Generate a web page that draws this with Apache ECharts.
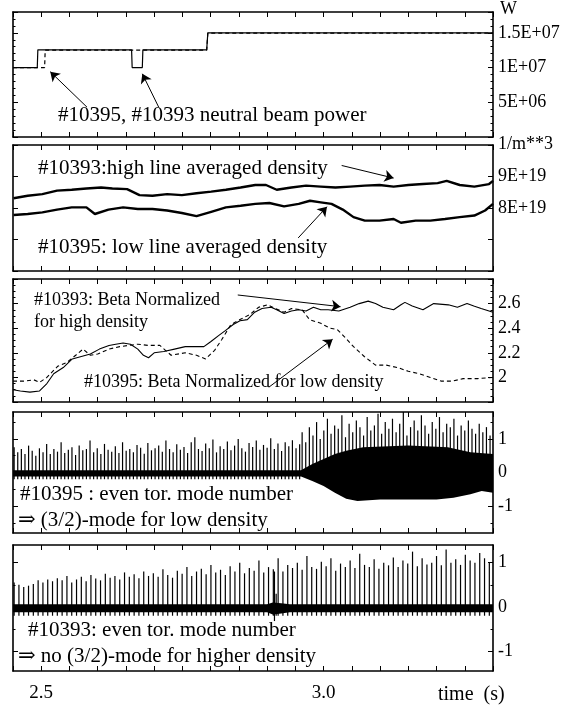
<!DOCTYPE html>
<html><head><meta charset="utf-8">
<script src="https://cdn.jsdelivr.net/npm/echarts@6/dist/echarts.min.js"></script>
<style>html,body{margin:0;padding:0;background:#fff}#c{width:571px;height:705px}</style>
</head><body><div id="c"></div>
<script>
const FONT = '"Liberation Serif", "DejaVu Serif", serif';
const T_MIN = 2.45, T_MAX = 3.30, T_STEP = 0.05;

// ---- Panel 1: neutral beam power (W)
const nbi10393 = [[2.45,1.0e7],[2.493,1.0e7],[2.494,1.255e7],[2.660,1.255e7],[2.661,1.0e7],[2.679,1.0e7],[2.680,1.255e7],[2.793,1.255e7],[2.795,1.5e7],[3.30,1.5e7]];
const nbi10395 = [[2.45,1.0e7],[2.506,1.0e7],[2.507,1.25e7],[2.793,1.25e7],[2.795,1.495e7],[3.30,1.495e7]];

// ---- Panel 2: line averaged density (1E+19 /m^3)
const dens10393 = [[2.451,8.31],[2.476,8.39],[2.502,8.44],[2.528,8.55],[2.554,8.58],[2.580,8.62],[2.606,8.65],[2.626,8.62],[2.652,8.60],[2.674,8.41],[2.697,8.39],[2.723,8.44],[2.749,8.41],[2.775,8.47],[2.801,8.52],[2.827,8.58],[2.853,8.65],[2.879,8.73],[2.898,8.73],[2.917,8.58],[2.943,8.65],[2.969,8.71],[2.995,8.68],[3.021,8.65],[3.047,8.68],[3.073,8.71],[3.099,8.73],[3.124,8.68],[3.150,8.73],[3.176,8.76],[3.202,8.79],[3.218,8.86],[3.241,8.73],[3.267,8.68],[3.293,8.76],[3.30,8.86]];
const dens10395 = [[2.451,7.78],[2.476,7.81],[2.502,7.86],[2.528,7.95],[2.554,8.02],[2.580,8.02],[2.595,7.81],[2.619,7.95],[2.645,8.02],[2.671,7.97],[2.697,7.97],[2.723,7.92],[2.749,7.84],[2.775,7.74],[2.801,7.88],[2.827,8.02],[2.853,8.07],[2.879,8.13],[2.904,8.16],[2.930,8.05],[2.956,8.13],[2.976,8.23],[2.995,8.18],[3.014,8.13],[3.034,7.95],[3.053,7.71],[3.073,7.60],[3.099,7.60],[3.124,7.65],[3.137,7.53],[3.163,7.60],[3.189,7.60],[3.215,7.65],[3.241,7.71],[3.267,7.76],[3.286,7.92],[3.30,8.13]];

// ---- Panel 3: beta normalized
const beta10393 = [[2.450,1.90],[2.463,1.89],[2.480,1.88],[2.497,1.89],[2.510,1.95],[2.522,2.03],[2.539,2.08],[2.555,2.15],[2.571,2.17],[2.587,2.19],[2.603,2.23],[2.620,2.26],[2.632,2.27],[2.645,2.28],[2.658,2.27],[2.671,2.23],[2.681,2.18],[2.690,2.16],[2.700,2.20],[2.717,2.21],[2.736,2.23],[2.755,2.25],[2.788,2.25],[2.800,2.29],[2.814,2.34],[2.826,2.38],[2.840,2.43],[2.852,2.46],[2.865,2.47],[2.878,2.53],[2.891,2.56],[2.907,2.57],[2.917,2.55],[2.930,2.52],[2.943,2.54],[2.956,2.55],[2.969,2.54],[2.982,2.57],[2.995,2.55],[3.008,2.55],[3.027,2.54],[3.047,2.57],[3.063,2.60],[3.079,2.62],[3.092,2.60],[3.105,2.57],[3.124,2.55],[3.137,2.59],[3.144,2.61],[3.157,2.58],[3.176,2.55],[3.195,2.60],[3.221,2.59],[3.237,2.57],[3.254,2.60],[3.266,2.58],[3.279,2.56],[3.300,2.53]];
const beta10395 = [[2.450,1.97],[2.469,1.97],[2.487,1.98],[2.497,1.96],[2.510,2.00],[2.529,2.09],[2.545,2.12],[2.561,2.18],[2.574,2.23],[2.587,2.18],[2.600,2.19],[2.620,2.23],[2.639,2.25],[2.655,2.26],[2.671,2.27],[2.690,2.26],[2.710,2.26],[2.730,2.18],[2.755,2.20],[2.775,2.18],[2.791,2.15],[2.807,2.22],[2.820,2.31],[2.836,2.43],[2.852,2.47],[2.869,2.51],[2.885,2.57],[2.901,2.59],[2.914,2.56],[2.930,2.53],[2.943,2.56],[2.962,2.55],[2.975,2.47],[2.995,2.44],[3.011,2.40],[3.024,2.39],[3.037,2.33],[3.053,2.25],[3.072,2.17],[3.092,2.10],[3.111,2.10],[3.131,2.08],[3.150,2.05],[3.169,2.03],[3.189,2.00],[3.208,1.97],[3.228,1.97],[3.247,1.99],[3.273,1.99],[3.300,2.00]];

// ---- Panel 4: #10395 mode signal
const spikes4aStart = 2.452, spikes4bStart = 2.962, spikeStep4 = 0.0064;
const spikes4a = [0.75,0.6,0.7,0.55,0.8,0.65,0.5,0.72,0.6,0.85,0.55,0.7,0.62,0.9,0.58,0.68,0.75,0.52,0.8,0.66,
  0.7,0.95,0.6,0.72,0.55,0.85,0.68,0.62,0.78,0.58,0.9,0.65,0.7,0.6,0.82,0.74,0.56,0.88,0.66,0.72,
  0.8,0.62,0.95,0.7,0.6,0.84,0.68,0.76,0.58,0.9,1.05,0.7,0.64,0.86,0.72,0.98,0.6,0.78,0.7,0.92,
  0.66,0.8,1.0,0.72,0.62,0.88,0.76,0.95,0.68,0.82,0.74,1.02,0.7,0.86,0.64,0.9,0.78,0.96,0.72,0.84];
const spikes4b = [1.2,0.9,1.35,1.1,1.5,1.0,1.25,1.6,1.15,1.4,1.3,1.7,1.05,1.45,1.2,1.55,1.35,1.1,1.65,1.25,
  1.4,1.75,1.15,1.5,1.3,1.6,1.2,1.45,1.8,1.1,1.35,1.55,1.25,1.7,1.4,1.15,1.5,1.3,1.65,1.2,
  1.45,1.35,1.6,1.1,1.4,1.25,1.55,1.3,1.15,1.45,1.2,1.35,1.1];
const band4Hi = [[2.45,0.07],[2.96,0.07],[2.98,0.25],[3.0,0.4],[3.02,0.55],[3.04,0.65],[3.07,0.75],[3.15,0.8],[3.22,0.75],[3.26,0.6],[3.30,0.55]];
const band4Lo = [[2.45,-0.12],[2.96,-0.12],[2.98,-0.25],[3.0,-0.4],[3.02,-0.6],[3.04,-0.78],[3.06,-0.85],[3.1,-0.8],[3.15,-0.8],[3.2,-0.8],[3.23,-0.75],[3.26,-0.65],[3.28,-0.55],[3.30,-0.6]];

// ---- Panel 5: #10393 mode signal
const spikes5Start = 2.452, spikeStep5 = 0.0085;
const spikes5 = [0.55,0.5,0.45,0.48,0.52,0.6,0.55,0.62,0.58,0.65,0.6,0.7,0.55,0.62,0.68,0.58,0.72,0.64,0.6,0.75,
  0.66,0.7,0.62,0.78,0.68,0.74,0.65,0.8,0.7,0.76,0.68,0.85,0.72,0.66,0.82,0.75,0.9,0.7,0.8,0.86,
  0.74,0.95,0.78,0.84,0.72,0.92,0.8,1.0,0.76,0.88,0.82,1.05,0.78,0.9,0.85,1.1,0.8,0.95,0.88,1.0,
  0.84,1.15,0.9,0.86,1.02,0.92,1.1,0.82,0.98,0.9,1.05,0.88,1.2,0.95,0.9,1.08,0.86,1.0,0.94,1.12,
  0.9,1.05,0.98,1.25,0.92,1.1,0.96,1.0,1.15,0.94,1.3,1.0,1.08,0.95,1.18,1.05,1.0,1.22,1.1,1.0];
const burst5 = [[2.913,-0.32,0.8],[2.916,-0.2,0.3]];
const band5Hi = [[2.45,0.06],[2.90,0.06],[2.91,0.1],[2.925,0.08],[2.94,0.06],[3.30,0.06]];
const band5Lo = [[2.45,-0.12],[2.90,-0.12],[2.91,-0.17],[2.925,-0.15],[2.94,-0.12],[3.30,-0.12]];

// ---- axis tick labels
const yLabels = [
  {5e6:'5E+06',1e7:'1E+07',1.5e7:'1.5E+07'},
  {8:'8E+19',9:'9E+19'},
  {2:'2',2.2:'2.2',2.4:'2.4',2.6:'2.6'},
  {'-1':'-1',0:'0',1:'1'},
  {'-1':'-1',0:'0',1:'1'}
];
const timeLabels = {2.5:'2.5', 3:'3.0'};

const grids = [
  {top:12, height:125},
  {top:145, height:126},
  {top:279, height:123},
  {top:412, height:121},
  {top:545, height:126}
];
const yScales = [
  {min:0, max:1.8e7, interval:5e6, minor:5},
  {min:6, max:10, interval:1, minor:0},
  {min:1.8, max:2.8, interval:0.2, minor:4},
  {min:-1.8, max:1.8, custom:[-1,0,1], minorVals:[-1.5,-0.5,0.5,1.5]},
  {min:-1.45, max:1.4, custom:[-1,0,1], minorVals:[-0.5,0.5]}
];

function lookup(map, v){
  for (const k in map){ if (Math.abs(parseFloat(k)-v) < 1e-9*Math.max(1,Math.abs(v))) return map[k]; }
  return '';
}
const LINE = {lineStyle:{color:'#000', width:1.6}};

const xAxes = [], yAxes = [];
grids.forEach((g,i)=>{
  ['bottom','top'].forEach(pos=>{
    xAxes.push({
      type:'value', gridIndex:i, position:pos, min:T_MIN, max:T_MAX, interval:T_STEP,
      axisLine:{show:true, onZero:false, ...LINE}, splitLine:{show:false},
      axisTick:{show:true, inside:true, length:5, lineStyle:{color:'#000', width:1}},
      axisLabel:{show: i===4 && pos==='bottom', margin:13, color:'#000', fontFamily:FONT, fontSize:19,
        formatter:v=>lookup(timeLabels,v)}
    });
  });
  const s = yScales[i];
  ['left','right'].forEach(pos=>{
    const ax = {
      type:'value', gridIndex:i, position:pos, min:s.min, max:s.max,
      axisLine:{show:true, onZero:false, ...LINE}, splitLine:{show:false},
      axisTick:{show:true, inside:true, length:5, lineStyle:{color:'#000', width:1}},
      axisLabel:{show: pos==='right', margin:5, color:'#000', fontFamily:FONT, fontSize:18,
        formatter:v=>lookup(yLabels[i],v)}
    };
    if (s.custom){
      ax.axisTick.customValues = s.custom;
      ax.axisLabel.customValues = s.custom;
    } else {
      ax.interval = s.interval;
      if (s.minor) ax.minorTick = {show:true, splitNumber:s.minor, length:2.5, lineStyle:{color:'#000', width:1}};
    }
    yAxes.push(ax);
  });
  if (s.minorVals){
    ['left','right'].forEach(pos=>{
      yAxes.push({type:'value', gridIndex:i, position:pos, min:s.min, max:s.max,
        axisLine:{show:false}, splitLine:{show:false}, axisLabel:{show:false},
        axisTick:{show:true, inside:true, length:2.5, customValues:s.minorVals, lineStyle:{color:'#000', width:1}}});
    });
  }
});
const yIdx = [0,2,4,6,10];
const xIdx = [0,2,4,6,8];

function arrow(a, b){ return [{coord:a},{coord:b}]; }
const ARROW_ML = (pairs)=>({silent:true, symbol:['none','arrow'], symbolSize:9, animation:false,
  lineStyle:{color:'#000', width:1, type:'solid'}, itemStyle:{color:'#000'}, label:{show:false}, data:pairs});

function spikeRender(params, api){
  const p0 = api.coord([api.value(0), api.value(1)]);
  const p1 = api.coord([api.value(0), api.value(2)]);
  return {type:'line', shape:{x1:p0[0],y1:p0[1],x2:p1[0],y2:p1[1]}, style:{stroke:'#000', lineWidth:1.2}};
}
function bandRender(lo, hi){
  return function(params, api){
    const pts = hi.map(p=>api.coord(p)).concat(lo.slice().reverse().map(p=>api.coord(p)));
    return {type:'polygon', shape:{points:pts}, style:{fill:'#000'}};
  };
}
function spikeData(start, step, heights, lo){ return heights.map((h,i)=>[start+i*step, lo, h]); }

const series = [
  {type:'line', xAxisIndex:xIdx[0], yAxisIndex:yIdx[0], data:nbi10395, showSymbol:false,
    lineStyle:{color:'#000', width:1.2, type:[4,3]}},
  {type:'line', xAxisIndex:xIdx[0], yAxisIndex:yIdx[0], data:nbi10393, showSymbol:false,
    lineStyle:{color:'#000', width:1.2},
    markLine:ARROW_ML([arrow([2.581,4.3e6],[2.516,9.4e6]), arrow([2.708,4.3e6],[2.679,9.1e6])])},
  {type:'line', xAxisIndex:xIdx[1], yAxisIndex:yIdx[1], data:dens10393, showSymbol:false,
    lineStyle:{color:'#000', width:2.4},
    markLine:ARROW_ML([arrow([3.032,9.35],[3.124,8.95]), arrow([2.955,7.05],[3.006,8.04])])},
  {type:'line', xAxisIndex:xIdx[1], yAxisIndex:yIdx[1], data:dens10395, showSymbol:false,
    lineStyle:{color:'#000', width:2.4}},
  {type:'line', xAxisIndex:xIdx[2], yAxisIndex:yIdx[2], data:beta10393, showSymbol:false,
    lineStyle:{color:'#000', width:1.1},
    markLine:ARROW_ML([arrow([2.848,2.67],[3.03,2.575]), arrow([2.903,1.92],[3.016,2.31])])},
  {type:'line', xAxisIndex:xIdx[2], yAxisIndex:yIdx[2], data:beta10395, showSymbol:false,
    lineStyle:{color:'#000', width:1.1, type:[4,3]}},
  {type:'custom', xAxisIndex:xIdx[3], yAxisIndex:yIdx[3], data:[[T_MIN,0,0]], renderItem:bandRender(band4Lo, band4Hi), encode:{x:0,y:[1,2]}, clip:true},
  {type:'custom', xAxisIndex:xIdx[3], yAxisIndex:yIdx[3], data:spikeData(spikes4aStart, spikeStep4, spikes4a, -0.2), renderItem:spikeRender, encode:{x:0,y:[1,2]}, clip:true},
  {type:'custom', xAxisIndex:xIdx[3], yAxisIndex:yIdx[3], data:spikeData(spikes4bStart, spikeStep4, spikes4b, 0), renderItem:spikeRender, encode:{x:0,y:[1,2]}, clip:true},
  {type:'custom', xAxisIndex:xIdx[4], yAxisIndex:yIdx[4], data:[[T_MIN,0,0]], renderItem:bandRender(band5Lo, band5Hi), encode:{x:0,y:[1,2]}, clip:true},
  {type:'custom', xAxisIndex:xIdx[4], yAxisIndex:yIdx[4], data:spikeData(spikes5Start, spikeStep5, spikes5, -0.2), renderItem:spikeRender, encode:{x:0,y:[1,2]}, clip:true},
  {type:'custom', xAxisIndex:xIdx[4], yAxisIndex:yIdx[4], data:burst5, renderItem:spikeRender, encode:{x:0,y:[1,2]}, clip:true}
];

function txt(text, x, y, size){
  return {type:'text', silent:true, style:{text, x, y, fill:'#000', font: size+'px '+FONT, verticalAlign:'middle'}};
}
const graphic = [
  txt('W', 500, 9, 18),
  txt('1/m**3', 498, 144, 18),
  txt('#10395, #10393 neutral beam power', 58, 115, 21),
  txt('#10393:high line averaged density', 38, 168, 21),
  txt('#10395: low line averaged density', 38, 247, 21),
  txt('#10393: Beta Normalized', 34, 300, 18),
  txt('for high density', 34, 322, 18),
  txt('#10395: Beta Normalized for low density', 84, 382, 18),
  txt('#10395 : even tor. mode number', 20, 494, 21),
  txt('\u21D2 (3/2)-mode for low density', 18, 520, 21),
  txt('#10393: even tor. mode number', 28, 630, 21),
  txt('\u21D2 no (3/2)-mode for higher density', 18, 656, 21),
  txt('time  (s)', 438, 695, 20)
];

const chart = echarts.init(document.getElementById('c'), null, {renderer:'canvas'});
chart.setOption({
  animation:false,
  backgroundColor:'#fff',
  grid: grids.map(g=>({left:13, right:78, top:g.top, height:g.height, containLabel:false})),
  xAxis:xAxes, yAxis:yAxes, series, graphic
});
</script></body></html>
